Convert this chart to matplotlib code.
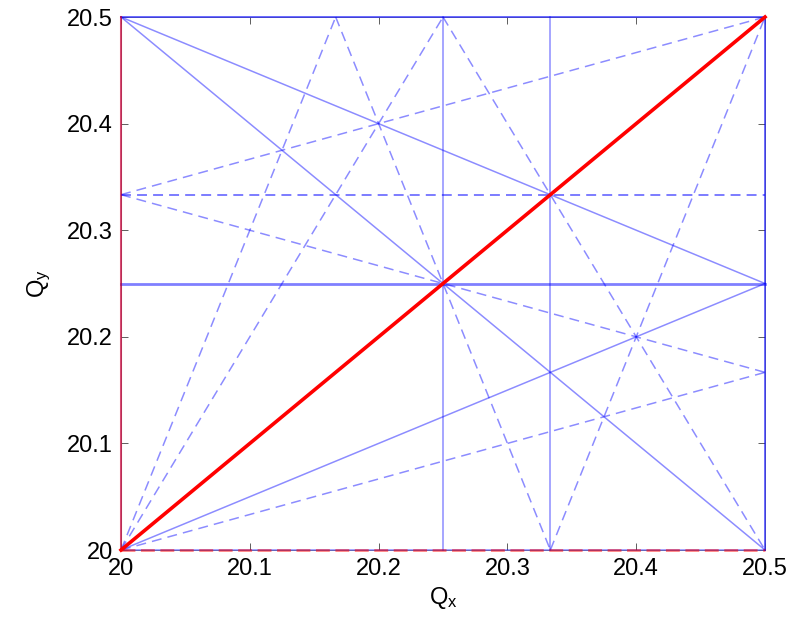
"""
Tune diagram around (20, 20): resonance lines up to 4th order.
Normal resonances solid, skew resonances dashed, coupling line in red.
"""

import numpy as np
import matplotlib
matplotlib.use("Agg")
import matplotlib.pyplot as plt
from matplotlib.ticker import FuncFormatter


INT_TUNE = 20
FRAC_MAX = 0.5

# m*Qx + n*Qy = p
NORMAL_M = [0, 0, 2, 4, 0, 2, 0, 4, 3, 1, 1, 2]
NORMAL_N = [2, 4, 0, 0, 2, 0, 4, 0, 0, 2, -2, 2]
NORMAL_P = [41, 82, 41, 82, 40, 40, 81, 81, 61, 61, -20, 81]

SKEW_M = [0, 2, 2, 3, 3, 3, 1, 1, -1]
SKEW_N = [3, 1, -1, 1, -1, -1, 3, -3, 3]
SKEW_P = [61, 61, 20, 81, 40, 41, 81, -40, 41]

# integer / coupling lines drawn in red
RED_M = [1, 0, 1]
RED_N = [-1, 1, 0]
RED_P = [0, 20, 20]
RED_DASHED = [False, True, False]

TICKS = [20, 20.1, 20.2, 20.3, 20.4, 20.5]

# lines that show up heavier in the original plot
HEAVY = {(0, 4, 81), (0, 3, 61)}


def segment(m, n, p):
    """Clip m*Qx + n*Qy = p to the tune box and return its two end points."""
    lo, hi = INT_TUNE, INT_TUNE + FRAC_MAX
    pts = []
    if n != 0:
        for qx in (lo, hi):
            qy = (p - m * qx) / n
            if lo - 1e-9 <= qy <= hi + 1e-9:
                pts.append((qx, qy))
    if m != 0:
        for qy in (lo, hi):
            qx = (p - n * qy) / m
            if lo - 1e-9 <= qx <= hi + 1e-9:
                pts.append((qx, qy))
    pts = sorted(set((round(a, 9), round(b, 9)) for a, b in pts))
    if len(pts) < 2:
        return None
    return np.array([pts[0], pts[-1]])


fig = plt.figure(figsize=(8.03, 6.21), dpi=100, facecolor="white")
ax = fig.add_axes([0.1507, 0.1143, 0.8020, 0.8583])

plt.rcParams["mathtext.default"] = "regular"

for m, n, p in zip(NORMAL_M, NORMAL_N, NORMAL_P):
    seg = segment(m, n, p)
    if seg is not None:
        heavy = (m, n, p) in HEAVY
        ax.plot(seg[:, 0], seg[:, 1], color="blue", alpha=0.5 if heavy else 0.45,
                linewidth=2.0 if heavy else 1.1, clip_on=False, zorder=3)

for m, n, p in zip(SKEW_M, SKEW_N, SKEW_P):
    seg = segment(m, n, p)
    if seg is not None:
        heavy = (m, n, p) in HEAVY
        ax.plot(seg[:, 0], seg[:, 1], color="blue", alpha=0.65 if heavy else 0.45,
                linewidth=1.1, dashes=(6.5, 4), clip_on=False, zorder=3)

for m, n, p, dashed in zip(RED_M, RED_N, RED_P, RED_DASHED):
    seg = segment(m, n, p)
    if seg is None:
        continue
    if m != 0 and n != 0:
        ax.plot(seg[:, 0], seg[:, 1], color="red", linewidth=2.6,
                clip_on=False, zorder=5)
    elif dashed:
        ax.plot(seg[:, 0], seg[:, 1], color="red", alpha=0.5, linewidth=2.0,
                dashes=(5, 2), clip_on=False, zorder=4)
    else:
        ax.plot(seg[:, 0], seg[:, 1], color="red", alpha=0.55, linewidth=1.5,
                clip_on=False, zorder=4)

ax.set_xlim(INT_TUNE, INT_TUNE + FRAC_MAX)
ax.set_ylim(INT_TUNE, INT_TUNE + FRAC_MAX)
ax.set_xticks(TICKS)
ax.set_yticks(TICKS)
fmt = FuncFormatter(lambda v, pos: f"{v:g}")
ax.xaxis.set_major_formatter(fmt)
ax.yaxis.set_major_formatter(fmt)
ax.tick_params(direction="in", length=5, width=0.6, color="#444444",
               top=True, right=True, labelsize=17, pad=6)
for lab in ax.get_xticklabels() + ax.get_yticklabels():
    lab.set_family("Liberation Sans")
for sp in ax.spines.values():
    sp.set_color("#888888")
    sp.set_linewidth(0.6)

ax.set_xlabel("Q$_x$", fontsize=17, family="Liberation Sans", labelpad=3)
ax.set_ylabel("Q$_y$", fontsize=17, family="Liberation Sans", labelpad=10)

fig.savefig("out.png", dpi=100, facecolor="white")
